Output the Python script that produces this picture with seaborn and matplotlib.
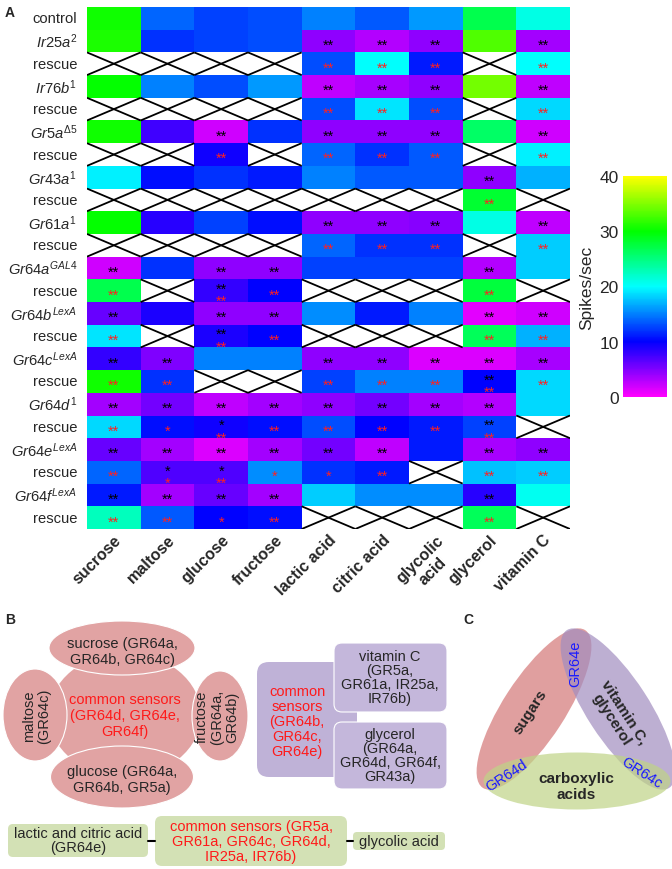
import numpy as np
import pandas as pd
import matplotlib
matplotlib.use("Agg")
import matplotlib.pyplot as plt
import seaborn as sns
from matplotlib.colors import LinearSegmentedColormap
from matplotlib.patches import Ellipse, FancyBboxPatch

nan = np.nan

# ---------------- data ----------------
row_labels = ['control', r'$\mathit{Ir25a}^{\mathit{2}}$', 'rescue',
              r'$\mathit{Ir76b}^{\mathit{1}}$', 'rescue',
              r'$\mathit{Gr5a}^{\Delta\mathit{5}}$', 'rescue',
              r'$\mathit{Gr43a}^{\mathit{1}}$', 'rescue',
              r'$\mathit{Gr61a}^{\mathit{1}}$', 'rescue',
              r'$\mathit{Gr64a}^{\mathit{GAL4}}$', 'rescue',
              r'$\mathit{Gr64b}^{\mathit{LexA}}$', 'rescue',
              r'$\mathit{Gr64c}^{\mathit{LexA}}$', 'rescue',
              r'$\mathit{Gr64d}^{\mathit{1}}$', 'rescue',
              r'$\mathit{Gr64e}^{\mathit{LexA}}$', 'rescue',
              r'$\mathit{Gr64f}^{\mathit{LexA}}$', 'rescue']

col_labels = ['sucrose', 'maltose', 'glucose', 'fructose', 'lactic acid',
              'citric acid', 'glycolic\nacid', 'glycerol', 'vitamin C']

sucrose = [30.5, 31, nan, 30, nan, 30.5, nan, 19.5, nan, 30, nan, 2, 27, 6, 19, 8, 30.5, 3.7, 18.5, 6, 14, 11, 22.5]
maltose = [14, 12, nan, 15, nan, 7.5, nan, 10.5, nan, 8.5, nan, 12, nan, 9, nan, 5, 12, 5.5, 10.5, 3.7, 7, 3.7, 13.5]
glucose = [12.5, 12.5, nan, 13, nan, 2, 9.5, 12, nan, 12.5, nan, 4.5, 8, 4.5, 9, 15, nan, 2.5, 9.5, 1.5, 7, 6, 10]
fructose = [13, 13, nan, 16, nan, 12, nan, 11, nan, 10.5, nan, 4.5, 10, 4.5, 10, 15, nan, 3.7, 10.5, 3.7, 15.5, 3.7, 10.5]
lactic = [15, 4.5, 13, 2.5, 13, 4.5, 14, 15, nan, 4.5, 14, 12.5, nan, 15.5, nan, 4.5, 12.5, 4.5, 13, 5.5, 12, 18, nan]
citric = [13.5, 3, 20, 3.5, 19, 4.5, 12, 13.5, nan, 4.5, 12, 12.5, nan, 11, nan, 4.5, 15, 5.5, 10, 2.5, 11, 15.5, nan]
glycolic = [16, 4.5, 11, 4.5, 13, 4.5, 13.5, 13.5, nan, 4.8, 12, 12.5, nan, 15, nan, 1.5, 15, 3.7, 11, 11, nan, 15.5, nan]
glycerol = [27, 33, nan, 34.5, nan, 26, nan, 4.5, 28, 21, nan, 3, 27.5, 1.2, 26.5, 1.5, 10, 3, 12.5, 3.5, 17.5, 8.5, 26.5]
vitamin_c = [21, 3.7, 20, 2.5, 18.5, 2, 19.5, 17, nan, 2.5, 18, 18, nan, 2, 17, 3.5, 18.5, 18.5, nan, 4.5, 18, 20.5, nan]

# significance marks: '**' black (vs control), 'r**' red (rescue vs mutant)
sucrose_sig = ['', '', '', '', '', '', '', '', '', '', '', '**', 'r**', '**', 'r**', '**', 'r**', '**', 'r**', '**', 'r**', '**', 'r**']
maltose_sig = ['', '', '', '', '', '', '', '', '', '', '', '', '', '', '', '**', 'r**', '**', 'r*', '**', '*/r*', '**', 'r**']
glucose_sig = ['', '', '', '', '', '**', 'r**', '', '', '', '', '**', '**/r**', '**', '**/r**', '', '', '**', '*/r**', '**', '*/r**', '**', 'r*']
fructose_sig = ['', '', '', '', '', '', '', '', '', '', '', '**', 'r**', '**', 'r**', '', '', '**', 'r**', '**', 'r*', '**', 'r**']
lactic_sig = ['', '**', 'r**', '**', 'r**', '**', 'r**', '', '', '**', 'r**', '', '', '', '', '**', 'r**', '**', 'r**', '**', 'r*', '', '']
citric_sig = ['', '**', 'r**', '**', 'r**', '**', 'r**', '', '', '**', 'r**', '', '', '', '', '**', 'r**', '**', 'r**', '**', 'r**', '', '']
glycolic_sig = ['', '**', 'r**', '**', 'r**', '**', 'r**', '', '', '**', 'r**', '', '', '', '', '**', 'r**', '**', 'r**', '', '', '', '']
glycerol_sig = ['', '', '', '', '', '', '', '**', 'r**', '', '', '**', 'r**', '**', 'r**', '**', '**/r**', '**', '**/r**', '**', 'r**', '**', 'r**']
vitamin_c_sig = ['', '**', 'r**', '**', 'r**', '**', 'r**', '', '', '**', 'r**', '', '', '**', 'r**', '**', 'r**', '', '', '**', 'r**', '', '']

cbar_ticks = [0, 10, 20, 30, 40]

# ---------------- style ----------------
sns.set_style("white")
plt.rcParams['font.family'] = ['Liberation Sans', 'DejaVu Sans']
plt.rcParams['mathtext.fontset'] = 'custom'
plt.rcParams['mathtext.rm'] = 'Liberation Sans'
plt.rcParams['mathtext.it'] = 'Liberation Sans:italic'
plt.rcParams['mathtext.bf'] = 'Liberation Sans:bold'

W, H = 672, 870
fig = plt.figure(figsize=(W / 100, H / 100), dpi=100)

def fax(x0, y0, x1, y1):
    return [x0 / W, 1 - y1 / H, (x1 - x0) / W, (y1 - y0) / H]

ax = fig.add_axes(fax(87, 8, 570, 530))
cax = fig.add_axes(fax(623, 177, 667, 398))

cmap = LinearSegmentedColormap.from_list(
    "spk", [(0, '#FF00FF'), (0.25, '#0000FF'), (0.5, '#00FFFF'),
            (0.75, '#00FF00'), (1.0, '#FFFF00')])

cols = [sucrose, maltose, glucose, fructose, lactic, citric, glycolic, glycerol, vitamin_c]
sigs = [sucrose_sig, maltose_sig, glucose_sig, fructose_sig, lactic_sig,
        citric_sig, glycolic_sig, glycerol_sig, vitamin_c_sig]
df = pd.DataFrame({c: v for c, v in zip(col_labels, cols)})
mask = df.isna()

sns.heatmap(df, ax=ax, cmap=cmap, vmin=0, vmax=40, mask=mask, cbar_ax=cax,
            xticklabels=col_labels, yticklabels=row_labels, linewidths=0)
ax.set_facecolor('white')

# crossed-out cells
for i, j in zip(*np.where(mask.values)):
    ax.plot([j, j + 1], [i, i + 1], color='black', lw=1.3, solid_capstyle='butt')
    ax.plot([j, j + 1], [i + 1, i], color='black', lw=1.3, solid_capstyle='butt')

# significance stars
for j, sig in enumerate(sigs):
    for i, m in enumerate(sig):
        if not m:
            continue
        parts = m.split('/')
        offs = [0.0] if len(parts) == 1 else [-0.24, 0.3]
        for p, o in zip(parts, offs):
            color = '#FF2020' if p.startswith('r') else 'black'
            ax.text(j + 0.5, i + 0.66 + o, p.lstrip('r'), color=color,
                    ha='center', va='center', fontsize=10.5)

ax.tick_params(axis='both', length=0)
ax.set_yticklabels(row_labels, rotation=0, fontsize=10.6)
ax.tick_params(axis='y', pad=7)
ax.set_xticklabels(col_labels, rotation=45, ha='right', va='top',
                   rotation_mode='anchor', fontsize=11.5, fontweight='bold',
                   multialignment='center')
ax.tick_params(axis='x', pad=2)
ax.set_xlabel('')
ax.set_ylabel('')

cax.yaxis.set_ticks_position('left')
cax.yaxis.set_label_position('left')
cax.set_yticks(cbar_ticks)
cax.set_yticklabels([str(t) for t in cbar_ticks], fontsize=12.5)
cax.tick_params(length=0, pad=3)
cax.set_ylabel('Spikes/sec', fontsize=12.5, labelpad=4)
for s in cax.spines.values():
    s.set_visible(False)

# ---------------- panels B and C (pixel overlay) ----------------
ov = fig.add_axes([0, 0, 1, 1])
ov.set_xlim(0, W)
ov.set_ylim(H, 0)
ov.axis('off')
ov.patch.set_alpha(0)

ov.text(10, 13, 'A', fontsize=10, fontweight='bold', ha='center', va='center')
ov.text(10, 620, 'B', fontsize=10, fontweight='bold', ha='center', va='center')
ov.text(468, 620, 'C', fontsize=10, fontweight='bold', ha='center', va='center')

pink = '#E1A3A3'
red = '#FF1A1A'
# central + petals
ov.add_patch(Ellipse((125, 716), 152, 124, facecolor=pink, edgecolor='none'))
for (cx, cy, w, h) in [(122, 649, 146, 54), (122, 778, 143, 62),
                       (35, 716, 64, 92), (220, 717, 56, 90)]:
    ov.add_patch(Ellipse((cx, cy), w, h, facecolor=pink, edgecolor='white', lw=0.8))
ov.text(122, 652, 'sucrose (GR64a,\nGR64b, GR64c)', ha='center', va='center',
        fontsize=10.5, linespacing=1.1)
ov.text(122, 780, 'glucose (GR64a,\nGR64b, GR5a)', ha='center', va='center',
        fontsize=10.5, linespacing=1.1)
ov.text(37, 716, 'maltose\n(GR64c)', ha='center', va='center', rotation=90,
        fontsize=10.5, linespacing=1.1)
ov.text(217, 717, 'fructose\n(GR64a,\nGR64b)', ha='center', va='center',
        rotation=90, fontsize=10.5, linespacing=1.1)
ov.text(125, 716, 'common sensors\n(GR64d, GR64e,\nGR64f)', ha='center',
        va='center', fontsize=10.5, color=red, linespacing=1.15)

purple = '#BFB2D7'
ov.add_patch(FancyBboxPatch((257, 663), 100, 115, boxstyle='round,pad=0,rounding_size=12',
                            facecolor=purple, edgecolor='none'))
ov.add_patch(FancyBboxPatch((334, 644), 113, 69, boxstyle='round,pad=0,rounding_size=8',
                            facecolor='#C4B7DB', edgecolor='white', lw=0.8))
ov.add_patch(FancyBboxPatch((334, 723), 113, 67, boxstyle='round,pad=0,rounding_size=8',
                            facecolor='#C4B7DB', edgecolor='white', lw=0.8))
ov.text(297, 722, 'common\nsensors\n(GR64b,\nGR64c,\nGR64e)', ha='center',
        va='center', fontsize=10.5, color=red, linespacing=1.1)
ov.text(390, 678, 'vitamin C\n(GR5a,\nGR61a, IR25a,\nIR76b)', ha='center',
        va='center', fontsize=10.5, linespacing=1.0)
ov.text(390, 756, 'glycerol\n(GR64a,\nGR64d, GR64f,\nGR43a)', ha='center',
        va='center', fontsize=10.5, linespacing=1.0)

green = '#D3E1B5'
ov.add_patch(FancyBboxPatch((8, 825), 140, 33, boxstyle='round,pad=0,rounding_size=5',
                            facecolor=green, edgecolor='none'))
ov.add_patch(FancyBboxPatch((155, 817), 192, 50, boxstyle='round,pad=0,rounding_size=7',
                            facecolor=green, edgecolor='none'))
ov.add_patch(FancyBboxPatch((353, 833), 92, 18, boxstyle='round,pad=0,rounding_size=4',
                            facecolor=green, edgecolor='none'))
ov.plot([148, 155], [842, 842], color='black', lw=1.5)
ov.plot([347, 353], [842, 842], color='black', lw=1.5)
ov.text(78, 841, 'lactic and citric acid\n(GR64e)', ha='center', va='center',
        fontsize=10.5, linespacing=1.0)
ov.text(251, 842, 'common sensors (GR5a,\nGR61a, GR64c, GR64d,\nIR25a, IR76b)',
        ha='center', va='center', fontsize=10.5, color=red, linespacing=1.05)
ov.text(399, 842, 'glycolic acid', ha='center', va='center', fontsize=10.5)

# panel C
ov.add_patch(Ellipse((534, 710), 188, 62, angle=-57, facecolor='#D47777', alpha=0.7,
                     edgecolor='none'))
ov.add_patch(Ellipse((618, 710), 188, 62, angle=57, facecolor='#A28DBF', alpha=0.7,
                     edgecolor='none'))
ov.add_patch(Ellipse((577, 782), 187, 57, facecolor='#BFD486', alpha=0.7,
                     edgecolor='none'))
ov.text(530, 712, 'sugars', rotation=57, ha='center', va='center', fontsize=11,
        fontweight='bold')
ov.text(618, 716, 'vitamin C,\nglycerol', rotation=-57, ha='center', va='center',
        fontsize=11, fontweight='bold', linespacing=1.1)
ov.text(576, 787, 'carboxylic\nacids', ha='center', va='center', fontsize=11,
        fontweight='bold', linespacing=1.1)
blue = '#1A1AFF'
ov.text(575, 664, 'GR64e', rotation=90, ha='center', va='center', fontsize=10.5, color=blue)
ov.text(507, 776, 'GR64d', rotation=33, ha='center', va='center', fontsize=10.5, color=blue)
ov.text(642, 773, 'GR64c', rotation=-33, ha='center', va='center', fontsize=10.5, color=blue)

fig.savefig('out.png', dpi=100)
